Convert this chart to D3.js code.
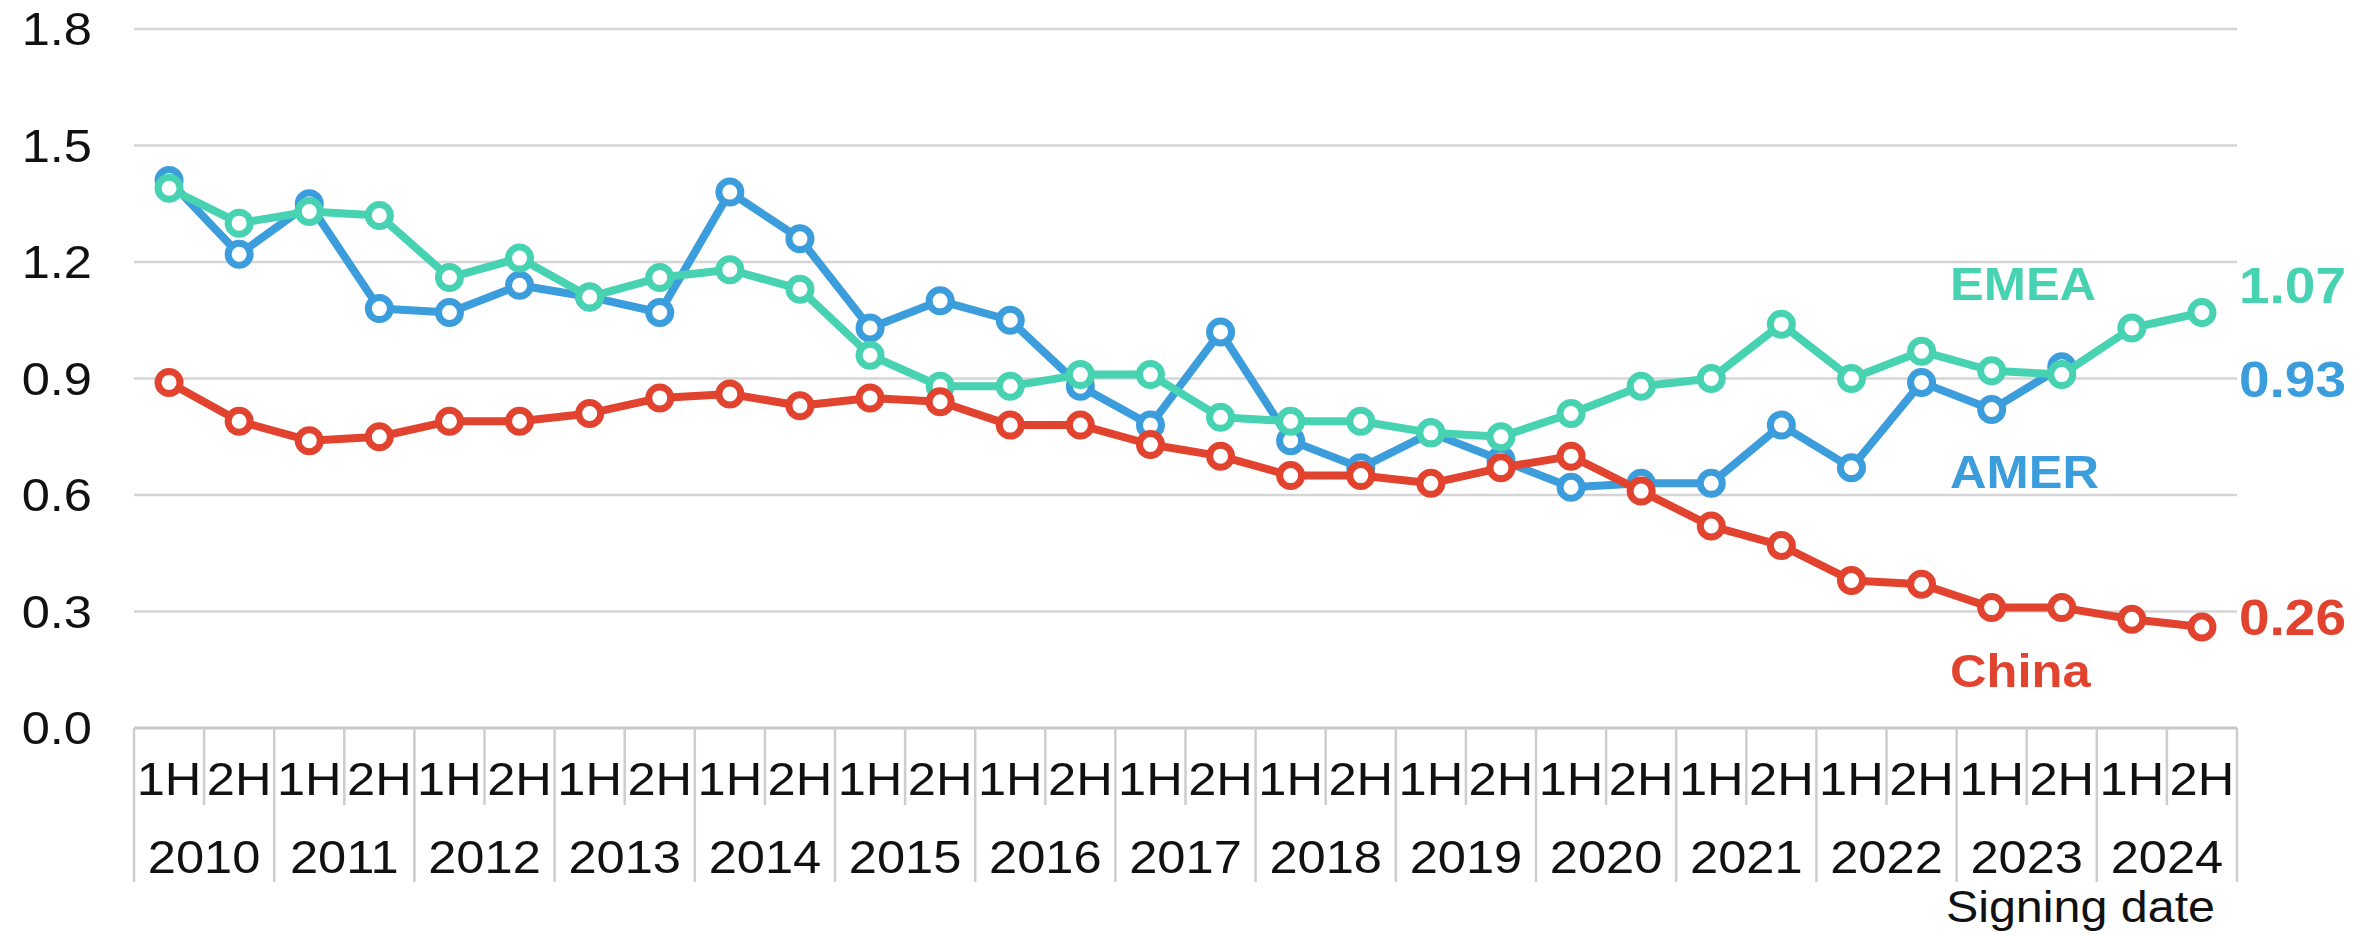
<!DOCTYPE html>
<html>
<head>
<meta charset="utf-8">
<script src="https://cdn.jsdelivr.net/npm/d3@7"></script>
<style>
  body { margin: 0; background: #fff; }
  text { font-family: "Liberation Sans", Arial, sans-serif; }
</style>
</head>
<body>
<div id="wrapper"></div>
<script>
// categories: half years 2010 - 2024
const years = ["2010", "2011", "2012", "2013", "2014", "2015", "2016", "2017",
  "2018", "2019", "2020", "2021", "2022", "2023", "2024"];
const halves = ["1H", "2H"];
const yTicks = [0, 0.3, 0.6, 0.9, 1.2, 1.5, 1.8];

// one value per half year
const amerValues = [1.41, 1.22, 1.35, 1.08, 1.07, 1.14, 1.11, 1.07, 1.38, 1.26,
  1.03, 1.10, 1.05, 0.88, 0.78, 1.02, 0.74, 0.67, 0.76, 0.69,
  0.62, 0.63, 0.63, 0.78, 0.67, 0.89, 0.82, 0.93, null, null];
const emeaValues = [1.39, 1.30, 1.33, 1.32, 1.16, 1.21, 1.11, 1.16, 1.18, 1.13,
  0.96, 0.88, 0.88, 0.91, 0.91, 0.80, 0.79, 0.79, 0.76, 0.75,
  0.81, 0.88, 0.90, 1.04, 0.90, 0.97, 0.92, 0.91, 1.03, 1.07];
const chinaValues = [0.89, 0.79, 0.74, 0.75, 0.79, 0.79, 0.81, 0.85, 0.86, 0.83,
  0.85, 0.84, 0.78, 0.78, 0.73, 0.70, 0.65, 0.65, 0.63, 0.67,
  0.70, 0.61, 0.52, 0.47, 0.38, 0.37, 0.31, 0.31, 0.28, 0.26];

const categories = years.flatMap(y => halves.map(h => `${y} ${h}`));

const series = [
  { name: "AMER", values: amerValues, color: "#3b9ddc", endLabel: "0.93" },
  { name: "EMEA", values: emeaValues, color: "#47d2b1", endLabel: "1.07" },
  { name: "China", values: chinaValues, color: "#e1432f", endLabel: "0.26" }
];

const xAccessor = d => d.cat;
const yAccessor = d => d.value;

const dimensions = {
  width: 2377,
  height: 935,
  margin: { top: 29, right: 140, left: 134, bottom: 207 }
};
dimensions.boundedWidth = dimensions.width
  - dimensions.margin.left
  - dimensions.margin.right;
dimensions.boundedHeight = dimensions.height
  - dimensions.margin.top
  - dimensions.margin.bottom;

// the source picture is a bit wider than tall, so text gets a small horizontal stretch
const STRETCH = 1.1;
function place(sel, x, y) {
  return sel.attr("transform", `translate(${x},${y}) scale(${STRETCH},1)`);
}

const wrapper = d3.select("#wrapper")
  .append("svg")
  .attr("width", dimensions.width)
  .attr("height", dimensions.height);

const bounds = wrapper.append("g")
  .attr("transform", `translate(${dimensions.margin.left},${dimensions.margin.top})`);

const xScale = d3.scaleBand()
  .domain(categories)
  .range([0, dimensions.boundedWidth]);

const yScale = d3.scaleLinear()
  .domain([0, 1.8])
  .range([dimensions.boundedHeight, 0]);

// gridlines (0.0 is the axis line itself)
bounds.append("g")
  .selectAll("line")
  .data(yTicks.filter(t => t > 0))
  .join("line")
  .attr("x1", 0)
  .attr("x2", dimensions.boundedWidth)
  .attr("y1", d => yScale(d))
  .attr("y2", d => yScale(d))
  .attr("stroke", "#d5d5d5")
  .attr("stroke-width", 2.5);

// y tick labels
bounds.append("g")
  .selectAll("text")
  .data(yTicks)
  .join("text")
  .each(function (d) { place(d3.select(this), -42, yScale(d)); })
  .attr("text-anchor", "end")
  .attr("dy", "0.35em")
  .style("font-size", "46px")
  .attr("fill", "#111")
  .text(d => d3.format(".1f")(d));

// x axis: line plus the table-like category separators
const xAxis = bounds.append("g")
  .attr("transform", `translate(0,${dimensions.boundedHeight})`);

xAxis.append("line")
  .attr("x1", 0)
  .attr("x2", dimensions.boundedWidth)
  .attr("stroke", "#c8c8c8")
  .attr("stroke-width", 3);

const separators = categories.map((c, i) => ({ x: xScale(c), long: i % 2 === 0 }))
  .concat([{ x: dimensions.boundedWidth, long: true }]);

xAxis.selectAll(".sep")
  .data(separators)
  .join("line")
  .attr("class", "sep")
  .attr("x1", d => d.x)
  .attr("x2", d => d.x)
  .attr("y1", 0)
  .attr("y2", d => d.long ? 154 : 77)
  .attr("stroke", "#cdcdcd")
  .attr("stroke-width", 2.5);

xAxis.selectAll(".half")
  .data(categories)
  .join("text")
  .attr("class", "half")
  .each(function (d) { place(d3.select(this), xScale(d) + xScale.bandwidth() / 2, 67); })
  .attr("text-anchor", "middle")
  .style("font-size", "46px")
  .attr("fill", "#111")
  .text(d => d.split(" ")[1]);

xAxis.selectAll(".year")
  .data(years)
  .join("text")
  .attr("class", "year")
  .each(function (d) { place(d3.select(this), xScale(`${d} 1H`) + xScale.bandwidth(), 145); })
  .attr("text-anchor", "middle")
  .style("font-size", "46px")
  .attr("fill", "#111")
  .text(d => d);

place(xAxis.append("text"), dimensions.boundedWidth - 22, 194)
  .attr("text-anchor", "end")
  .style("font-size", "44px")
  .attr("fill", "#111")
  .text("Signing date");

// lines + hollow markers
const lineGenerator = d3.line()
  .defined(d => d.value !== null)
  .x(d => xScale(xAccessor(d)) + xScale.bandwidth() / 2)
  .y(d => yScale(yAccessor(d)));

series.forEach(s => {
  const points = s.values.map((v, i) => ({ cat: categories[i], value: v }));
  const g = bounds.append("g");

  g.append("path")
    .datum(points)
    .attr("d", lineGenerator)
    .attr("fill", "none")
    .attr("stroke", s.color)
    .attr("stroke-width", 8)
    .attr("stroke-linejoin", "round");

  g.selectAll("circle")
    .data(points.filter(d => d.value !== null))
    .join("circle")
    .attr("cx", d => xScale(xAccessor(d)) + xScale.bandwidth() / 2)
    .attr("cy", d => yScale(yAccessor(d)))
    .attr("r", 11)
    .attr("fill", "#fff")
    .attr("stroke", s.color)
    .attr("stroke-width", 7);
});

// series names and the last values on the right
const nameLabels = [
  { text: "EMEA", color: series[1].color, y: 271 },
  { text: "AMER", color: series[0].color, y: 459 },
  { text: "China", color: series[2].color, y: 658 }
];
bounds.selectAll(".name")
  .data(nameLabels)
  .join("text")
  .attr("class", "name")
  .each(function (d) { place(d3.select(this), 1816, d.y); })
  .style("font-size", "46px")
  .style("font-weight", "bold")
  .attr("fill", d => d.color)
  .text(d => d.text);

const endLabels = [
  { text: series[1].endLabel, color: series[1].color, y: 274 },
  { text: series[0].endLabel, color: series[0].color, y: 368 },
  { text: series[2].endLabel, color: series[2].color, y: 606 }
];
bounds.selectAll(".end")
  .data(endLabels)
  .join("text")
  .attr("class", "end")
  .each(function (d) { place(d3.select(this), dimensions.boundedWidth + 2, d.y); })
  .style("font-size", "50px")
  .style("font-weight", "bold")
  .attr("fill", d => d.color)
  .text(d => d.text);
</script>
</body>
</html>
